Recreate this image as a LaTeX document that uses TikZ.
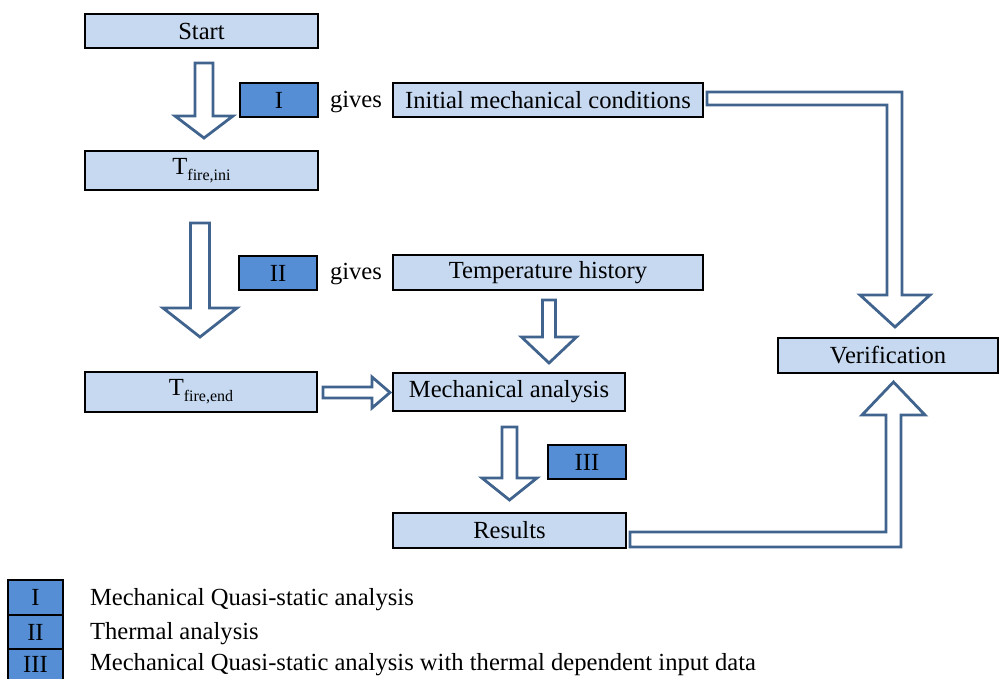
\documentclass[tikz,border=0pt]{standalone}
\usepackage{fontspec}
\setmainfont{Liberation Serif}
\usetikzlibrary{calc}
\definecolor{lightbox}{HTML}{C6D9F1}
\definecolor{darkbox}{HTML}{558ED5}
\definecolor{arrowline}{HTML}{41648F}
\tikzset{
  base/.style={draw=black, line width=2.4pt, inner sep=0pt, outer sep=0pt, font=\fontsize{24.6}{28}\selectfont, text=black},
  lbox/.style={base, fill=lightbox},
  dbox/.style={base, fill=darkbox, minimum width=78pt, minimum height=34pt},
  plain/.style={inner sep=0pt, outer sep=0pt, font=\fontsize{24.6}{28}\selectfont, text=black},
  blk/.style={draw=arrowline, fill=white, line width=2.8pt, line join=miter}
}
\newcommand\subtxt[1]{\raisebox{-6pt}{\fontsize{16}{18}\selectfont #1}}
% down block arrow: from, tip, half shaft, half head, head length
\newcommand\dnarrow[5]{\draw[blk] let \p1=#1, \p2=#2 in
  (\x1-#3pt,\y1) -- (\x1+#3pt,\y1) -- (\x1+#3pt,\y2+#5pt) -- (\x1+#4pt,\y2+#5pt)
  -- (\x1,\y2) -- (\x1-#4pt,\y2+#5pt) -- (\x1-#3pt,\y2+#5pt) -- cycle;}
% right block arrow
\newcommand\rtarrow[5]{\draw[blk] let \p1=#1, \p2=#2 in
  (\x1,\y1+#3pt) -- (\x2-#5pt,\y1+#3pt) -- (\x2-#5pt,\y1+#4pt) -- (\x2,\y1)
  -- (\x2-#5pt,\y1-#4pt) -- (\x2-#5pt,\y1-#3pt) -- (\x1,\y1-#3pt) -- cycle;}
\begin{document}
\begin{tikzpicture}[x=1pt,y=-1pt]
\useasboundingbox (0,0) rectangle (999,679);

% main boxes
\node[lbox, minimum width=233pt, minimum height=34pt] (start) at (201.5,31) {Start};
\node[lbox, minimum width=233pt, minimum height=39pt] (tini) at (201.5,170.5) {T\subtxt{fire,ini}};
\node[lbox, minimum width=232pt, minimum height=40pt] (tend) at (201,392) {T\subtxt{fire,end}};
\node[dbox] (b1) at (279,100) {I};
\node[dbox] (b2) at (278,273) {II};
\node[dbox] (b3) at (587,462) {III};
\node[plain] (g1) at (356,102) {gives};
\node[plain] (g2) at (356,274) {gives};
\node[lbox, minimum width=310pt, minimum height=34pt] (init) at (548,100) {Initial mechanical conditions};
\node[lbox, minimum width=310pt, minimum height=35pt] (temp) at (548,272.5) {Temperature history};
\node[lbox, minimum width=232pt, minimum height=38pt] (mech) at (509,392) {Mechanical analysis};
\node[lbox, minimum width=233pt, minimum height=35pt] (res) at (509.5,530.5) {Results};
\node[lbox, minimum width=220pt, minimum height=35pt] (verif) at (888,355.5) {Verification};

% block arrows
\dnarrow{([xshift=2.5pt,yshift=-15pt]start.south)}{([xshift=2.5pt,yshift=13pt]tini.north)}{9}{29}{22}
\dnarrow{([xshift=-1.5pt,yshift=-33pt]tini.south)}{([xshift=-1.5pt,yshift=35pt]tend.north)}{9.5}{37}{29}
\dnarrow{([xshift=1pt,yshift=-10pt]temp.south)}{([xshift=1pt,yshift=10pt]mech.north)}{6.5}{27.5}{26}
\dnarrow{([xshift=0.5pt,yshift=-16pt]mech.south)}{([xshift=0.5pt,yshift=13pt]res.north)}{7.5}{27.5}{22}
\rtarrow{([xshift=6pt,yshift=-0.5pt]tend.east)}{([xshift=-3pt,yshift=-0.5pt]mech.west)}{5.5}{15.5}{18}

% L-shaped block arrow: init -> verification
\draw[blk] let \p1=([xshift=4pt,yshift=1.5pt]init.east), \p2=([xshift=7pt,yshift=11pt]verif.north) in
  (\x1,\y1+6.5pt) -- (\x2+7pt,\y1+6.5pt) -- (\x2+7pt,\y2+32pt) -- (\x2+35pt,\y2+32pt)
  -- (\x2,\y2) -- (\x2-35pt,\y2+32pt) -- (\x2-8pt,\y2+32pt) -- (\x2-8pt,\y1-6.5pt)
  -- (\x1,\y1-6.5pt) -- cycle;
% L-shaped block arrow: results -> verification
\draw[blk] let \p1=([xshift=4pt,yshift=-9pt]res.east), \p2=([xshift=5.5pt,yshift=-9pt]verif.south) in
  (\x1,\y1-7.5pt) -- (\x2+7.5pt,\y1-7.5pt) -- (\x2+7.5pt,\y2-33pt) -- (\x2+31.5pt,\y2-33pt)
  -- (\x2,\y2) -- (\x2-31.5pt,\y2-33pt) -- (\x2-7.5pt,\y2-33pt) -- (\x2-7.5pt,\y1+7.5pt)
  -- (\x1,\y1+7.5pt) -- cycle;

% legend
\node[base, fill=darkbox, minimum width=55pt, minimum height=35pt] (l1) at (35.5,597.5) {I};
\node[base, fill=darkbox, minimum width=55pt, minimum height=34pt, anchor=north] (l2) at (l1.south) {II};
\node[base, fill=darkbox, minimum width=55pt, minimum height=31pt, anchor=north] (l3) at (l2.south) {III};
\node[plain, anchor=west] (t1) at (90,600) {Mechanical Quasi-static analysis};
\node[plain, anchor=west] (t2) at (90,634) {Thermal analysis};
\node[plain, anchor=west] (t3) at (90,665) {Mechanical Quasi-static analysis with thermal dependent input data};
\end{tikzpicture}
\end{document}
